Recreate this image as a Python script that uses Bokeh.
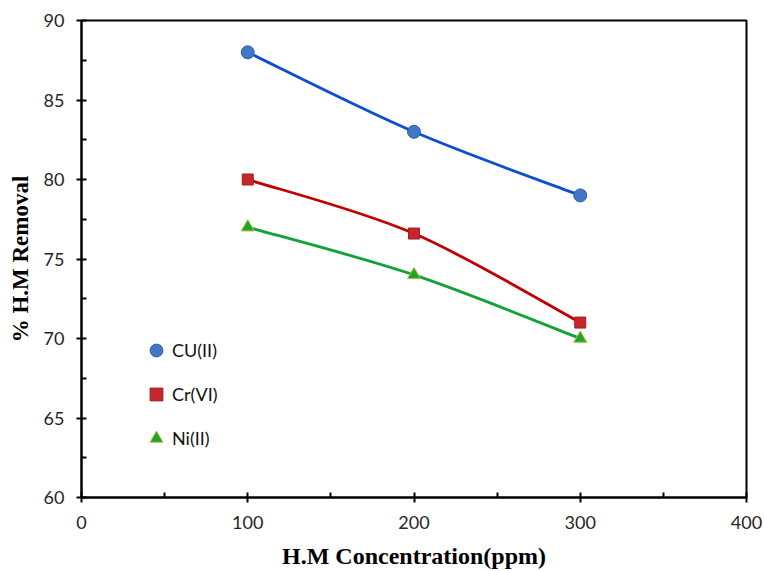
import numpy as np
from bokeh.plotting import figure
from bokeh.models import FixedTicker, Legend, LegendItem, Range1d
from bokeh.embed import file_html
from bokeh.resources import INLINE

# Heavy-metal removal efficiency versus initial concentration
concentration = [100, 200, 300]
cu_removal = [88.0, 83.0, 79.0]
cr_removal = [80.0, 76.6, 71.0]
ni_removal = [77.0, 74.0, 70.0]

x_ticks = [0, 100, 200, 300, 400]
y_ticks = [60, 65, 70, 75, 80, 85, 90]

series = [
    ("CU(II)", cu_removal, "#0a4fd0", "circle", 13, "#4276c6", "#2f5fae"),
    ("Cr(VI)", cr_removal, "#c00000", "square", 11, "#c4262b", "#a51d22"),
    ("Ni(II)", ni_removal, "#11a23a", "triangle", 13, "#1fa52c", "#b8b83a"),
]


def smooth_segments(xs, ys):
    """Catmull-Rom style cubic Bezier segments through the points."""
    xs = np.asarray(xs, float)
    ys = np.asarray(ys, float)
    px = np.concatenate([[xs[0]], xs, [xs[-1]]])
    py = np.concatenate([[ys[0]], ys, [ys[-1]]])
    segs = dict(x0=[], y0=[], x1=[], y1=[], cx0=[], cy0=[], cx1=[], cy1=[])
    for i in range(1, len(xs)):
        segs["x0"].append(px[i]); segs["y0"].append(py[i])
        segs["x1"].append(px[i + 1]); segs["y1"].append(py[i + 1])
        segs["cx0"].append(px[i] + (px[i + 1] - px[i - 1]) / 6)
        segs["cy0"].append(py[i] + (py[i + 1] - py[i - 1]) / 6)
        segs["cx1"].append(px[i + 1] - (px[i + 2] - px[i]) / 6)
        segs["cy1"].append(py[i + 1] - (py[i + 2] - py[i]) / 6)
    return segs


p = figure(width=764, height=571, output_backend="svg", toolbar_location=None,
           x_range=Range1d(0, 400), y_range=Range1d(60, 90),
           min_border_left=81, min_border_right=18, min_border_top=20,
           min_border_bottom=74)
p.xgrid.visible = False
p.ygrid.visible = False
p.outline_line_color = "black"
p.outline_line_width = 2
p.background_fill_color = "white"
p.border_fill_color = "white"

legend_items = []
for name, vals, line_col, marker, size, fill, edge in series:
    segs = smooth_segments(concentration, vals)
    p.bezier(source=segs, x0="x0", y0="y0", x1="x1", y1="y1",
             cx0="cx0", cy0="cy0", cx1="cx1", cy1="cy1",
             line_color=line_col, line_width=2.8)
for name, vals, line_col, marker, size, fill, edge in series:
    r = p.scatter(concentration, vals, marker=marker, size=size,
                  fill_color=fill, line_color=edge, line_width=1)
    legend_items.append(LegendItem(label=name, renderers=[r]))

legend = Legend(items=legend_items, location=(59, 43),
                glyph_width=32, glyph_height=32, label_height=32,
                spacing=12, padding=0, margin=0, label_standoff=0,
                border_line_color=None, background_fill_alpha=0,
                label_text_font="Lato", label_text_font_size="18px",
                label_text_color="#111111")
p.add_layout(legend)

for ax, ticks in ((p.xaxis, x_ticks), (p.yaxis, y_ticks)):
    ax.ticker = FixedTicker(ticks=ticks,
                            minor_ticks=[t + (ticks[1] - ticks[0]) / 2 for t in ticks[:-1]])
    ax.axis_line_width = 2
    ax.axis_line_color = "black"
    ax.major_tick_line_width = 2
    ax.major_tick_in = 5
    ax.major_tick_out = 5
    ax.minor_tick_in = 5
    ax.minor_tick_out = 0
    ax.minor_tick_line_width = 2
    ax.major_label_text_font = "Lato"
    ax.major_label_text_font_size = "18px"
    ax.major_label_text_color = "#262626"
    ax.axis_label_text_font = "Liberation Serif"
    ax.axis_label_text_font_style = "bold"
    ax.axis_label_text_color = "black"

p.xaxis.axis_label = "H.M Concentration(ppm)"
p.yaxis.axis_label = "% H.M Removal"
p.xaxis.axis_label_text_font_size = "24px"
p.yaxis.axis_label_text_font_size = "23px"
p.xaxis.major_label_standoff = 13
p.yaxis.major_label_standoff = 12
p.xaxis.axis_label_standoff = 11
p.yaxis.axis_label_standoff = 8

open("out.html", "w").write(file_html(p, INLINE))
